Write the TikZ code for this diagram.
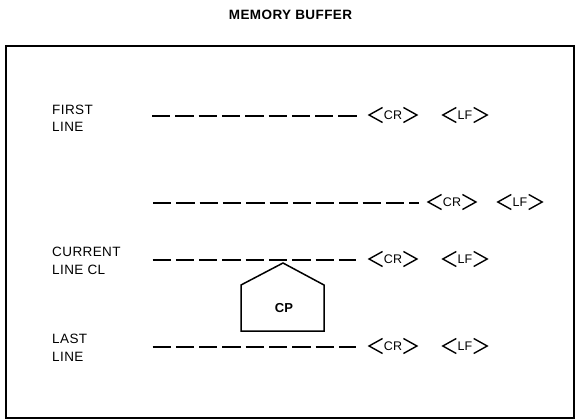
\documentclass[tikz,border=0pt]{standalone}
\usepackage{fontspec}
\setmainfont{Liberation Sans}
\newcommand\angbr[1]{%
  \draw[brk] (#1.west) ++(0,-7.5) -- ++(-13.5,7.5) -- ++(13.5,7.5);
  \draw[brk] (#1.east) ++(0,-7.5) -- ++(13.5,7.5) -- ++(-13.5,7.5);}
\begin{document}
\begin{tikzpicture}[x=1pt,y=-1pt,
  ttl/.style={font=\fontsize{13.5}{15}\selectfont\bfseries\addfontfeature{LetterSpace=3}, inner sep=0pt},
  lbl/.style={font=\fontsize{13.5}{17.5}\selectfont\addfontfeature{LetterSpace=3}, align=left, anchor=west, inner sep=0pt},
  ctl/.style={font=\fontsize{12.5}{13}\selectfont, inner sep=1.2pt},
  cpl/.style={font=\fontsize{13}{13}\selectfont\bfseries, inner sep=0pt},
  brk/.style={line width=1.4pt, line join=miter},
  dashline/.style={line width=1.7pt, dash pattern=on 18.3pt off 5pt},
  framebox/.style={line width=1.6pt},
  cpbox/.style={line width=1.5pt, line join=miter}]
\useasboundingbox (0,0) rectangle (576,420);
% title and frame
\node[ttl] (title) at (290.5,14.5) {MEMORY BUFFER};
\draw[framebox] (6,46) rectangle (574,418);
% labels
\node[lbl] (first) at (52,118.5) {FIRST\\LINE};
\node[lbl] (current) at (52,261) {CURRENT\\LINE CL};
\node[lbl] (last) at (52,348) {LAST\\LINE};
% dashed lines
\coordinate (s1) at (152,116); \coordinate (e1) at (357,116);
\coordinate (s2) at (153,203); \coordinate (e2) at (419,203);
\coordinate (s3) at (152.5,260); \coordinate (e3) at (356,260);
\coordinate (s4) at (152.5,347); \coordinate (e4) at (356,347);
\draw[dashline] (s1) -- (e1);
\draw[dashline] (s2) -- (e2);
\draw[dashline] (s3) -- (e3);
\draw[dashline] (s4) -- (e4);
% control characters
\node[ctl] (cr1) at (393,115) {CR}; \angbr{cr1}
\node[ctl] (lf1) at (465,115) {LF}; \angbr{lf1}
\node[ctl] (cr2) at (452,202) {CR}; \angbr{cr2}
\node[ctl] (lf2) at (520,202) {LF}; \angbr{lf2}
\node[ctl] (cr3) at (393,259) {CR}; \angbr{cr3}
\node[ctl] (lf3) at (465,259) {LF}; \angbr{lf3}
\node[ctl] (cr4) at (393,346) {CR}; \angbr{cr4}
\node[ctl] (lf4) at (465,346) {LF}; \angbr{lf4}
% CP pointer
\draw[cpbox] (241,331) -- (241,285) -- (283,263) -- (324,285) -- (324,331) -- cycle;
\node[cpl] (cp) at (284,307.7) {CP};
\end{tikzpicture}
\end{document}
